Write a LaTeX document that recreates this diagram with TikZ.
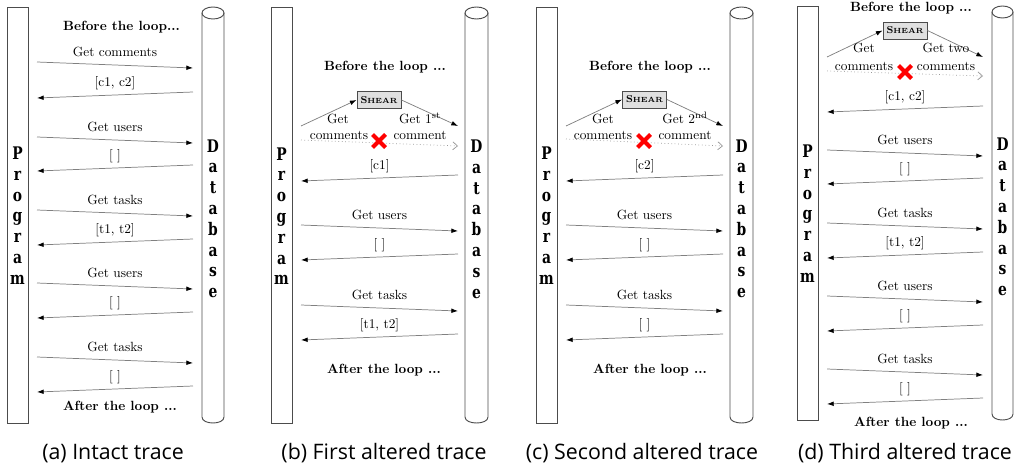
\documentclass[tikz,border=0pt]{standalone}
\usepackage{fontspec}
\newfontfamily\capfont{Open Sans}
\newfontfamily\lettfont{DejaVu Serif}
\usetikzlibrary{arrows.meta}

\tikzset{
  life/.style={draw=black!70, line width=0.7pt},
  msgline/.style={draw=black!50, line width=0.55pt, -{Latex[length=5pt,width=3.5pt,color=black]}},
  lost/.style={draw=black!40, dotted, line width=0.55pt, -{Straight Barb[length=3.5pt,width=6pt]}},
  lbl/.style={font=\fontsize{10}{12}\selectfont, inner sep=0pt, anchor=base},
  hdr/.style={font=\fontsize{10}{12}\selectfont\bfseries, inner sep=0pt, anchor=base},
  letter/.style={font=\lettfont\fontsize{13}{15}\selectfont\bfseries, inner sep=0pt, anchor=base},
  shearbox/.style={draw=black!70, fill=black!12, line width=0.7pt, minimum width=33pt,
                   minimum height=12.75pt, inner sep=0pt, font=\bfseries},
  cross/.style={draw=red, line width=3pt},
  caption/.style={font=\capfont\fontsize{16}{19}\selectfont, inner sep=0pt, anchor=base},
}

\newcommand\os[1]{\oldstylenums{#1}}
\newcommand\shearname{{\fontsize{7.5}{9}\selectfont S}{\fontsize{5.6}{7}\selectfont HEAR}}
\newcommand\none{[\ ]}

% Program box and Database cylinder with their vertical labels
% #1 prefix, #2/#3 box left/right, #4/#5 cylinder left/right, #6 top, #7 bottom, #8 letter shift
\newcommand\lifelines[8]{%
  \draw[life] (#2,#6) rectangle (#3,#7);
  \draw[life] (#4,#6+6) -- (#4,#7-6) .. controls (#4,#7+2) and (#5,#7+2) .. (#5,#7-6) -- (#5,#6+6);
  \draw[life] ({(#4+#5)/2},#6+6) ellipse [x radius={(#5-#4)/2}, y radius=6];
  \foreach \ch [count=\i from 0] in {P,r,o,g,r,a,m}
    \node[letter] (#1-p\i) at ({(#2+#3)/2},{159.5+#8+20.8*\i}) {\scalebox{0.8}[1]{\ch}};
  \foreach \ch [count=\i from 0] in {D,a,t,a,b,a,s,e}
    \node[letter] (#1-d\i) at ({(#4+#5)/2},{152+#8+20.8*\i}) {\scalebox{0.8}[1]{\ch}};
}

% one message: #1 name, #2 x of tail, #3 x of head, #4 y of tail, #5 label
\newcommand\msgto[5]{%
  \coordinate (#1s) at (#2,#4);
  \coordinate (#1e) at (#3,#4+6);
  \draw[msgline] (#1s) -- (#1e);
  \node[lbl] (#1l) at ({(#2+#3)/2},#4-6) {#5};
}

% red cross marking the lost request
\newcommand\crossat[3]{%
  \coordinate (#1) at (#2,#3);
  \draw[cross] (#2-6.5,#3-6.5) -- (#2+6.5,#3+6.5) (#2-6.5,#3+6.5) -- (#2+6.5,#3-6.5);
}

\begin{document}
\begin{tikzpicture}[x=0.75pt, y=-0.75pt]
\useasboundingbox (0,0) rectangle (1019,467);

% ---------- (a) intact trace ----------
\lifelines{a}{7}{28}{202}{224}{7}{423}{0}
\node[hdr] (a-before) at (121.5,31) {Before the loop...};
\msgto{a1}{37}{193}{62}{Get comments}
\msgto{a2}{193}{37}{92}{[c\os1, c\os2]}
\msgto{a3}{37}{193}{137}{Get users}
\msgto{a4}{193}{37}{165}{\none}
\msgto{a5}{37}{193}{210}{Get tasks}
\msgto{a6}{193}{37}{239}{[t\os1, t\os2]}
\msgto{a7}{37}{193}{283}{Get users}
\msgto{a8}{193}{37}{312}{\none}
\msgto{a9}{37}{193}{357}{Get tasks}
\msgto{a10}{193}{37}{386}{\none}
\node[hdr] (a-after) at (120,410) {After the loop ...};
\node[caption] (a-cap) at (113,459) {(a) Intact trace};

% ---------- (b) first altered trace ----------
\lifelines{b}{271}{292}{465}{488}{7}{423}{0.5}
\node[hdr] (b-before) at (385,70) {Before the loop ...};
\node[shearbox] (b-shear) at (379,100) {\shearname};
\coordinate (b-s0) at (301,126);
\coordinate (b-e0) at (458,126);
\draw[msgline] (b-s0) -- (b-shear.west);
\draw[msgline] (b-shear.east) -- (b-e0);
\node[lbl] (b-get) at (338,123) {Get};
\node[lbl] (b-com) at (339,139) {comments};
\node[lbl] (b-get1) at (420,123) {Get \os1\textsuperscript{st}};
\node[lbl] (b-com1) at (420,139) {comment};
\coordinate (b-ls) at (301,140);
\coordinate (b-le) at (458,146);
\draw[lost] (b-ls) -- (b-le);
\crossat{b-x}{379}{141}
\msgto{b1}{458}{301}{175}{[c\os1]}
\msgto{b2}{301}{458}{225}{Get users}
\msgto{b3}{458}{301}{254}{\none}
\msgto{b4}{301}{458}{305}{Get tasks}
\msgto{b5}{458}{301}{334}{[t\os1, t\os2]}
\node[hdr] (b-after) at (384,373) {After the loop ...};
\node[caption] (b-cap) at (384,459) {(b) First altered trace};

% ---------- (c) second altered trace ----------
\lifelines{c}{536}{557}{730}{753}{7}{423}{0}
\node[hdr] (c-before) at (650,70) {Before the loop ...};
\node[shearbox] (c-shear) at (644.5,99.5) {\shearname};
\coordinate (c-s0) at (566,126);
\coordinate (c-e0) at (723,126);
\draw[msgline] (c-s0) -- (c-shear.west);
\draw[msgline] (c-shear.east) -- (c-e0);
\node[lbl] (c-get) at (603,123) {Get};
\node[lbl] (c-com) at (603,139) {comments};
\node[lbl] (c-get2) at (685,123) {Get \os2\textsuperscript{nd}};
\node[lbl] (c-com2) at (685,139) {comment};
\coordinate (c-ls) at (566,139);
\coordinate (c-le) at (723,146);
\draw[lost] (c-ls) -- (c-le);
\crossat{c-x}{644}{141}
\msgto{c1}{723}{566}{175}{[c\os2]}
\msgto{c2}{566}{723}{225}{Get users}
\msgto{c3}{723}{566}{254}{\none}
\msgto{c4}{566}{723}{305}{Get tasks}
\msgto{c5}{723}{566}{334}{\none}
\node[hdr] (c-after) at (650,373) {After the loop ...};
\node[caption] (c-cap) at (642,459) {(c) Second altered trace};

% ---------- (d) third altered trace ----------
\lifelines{d}{797}{818}{992}{1013}{6}{420}{-2}
\node[hdr] (d-before) at (911,11.7) {Before the loop ...};
\node[shearbox] (d-shear) at (905,30.5) {\shearname};
\coordinate (d-s0) at (827,57);
\coordinate (d-e0) at (983,57);
\draw[msgline] (d-s0) -- (d-shear.west);
\draw[msgline] (d-shear.east) -- (d-e0);
\node[lbl] (d-get) at (864,53) {Get};
\node[lbl] (d-com) at (864,70) {comments};
\node[lbl] (d-get2) at (946,53) {Get two};
\node[lbl] (d-com2) at (946,70) {comments};
\coordinate (d-ls) at (827,71);
\coordinate (d-le) at (983,76);
\draw[lost] (d-ls) -- (d-le);
\crossat{d-x}{905}{72}
\msgto{d1}{983}{827}{106}{[c\os1, c\os2]}
\msgto{d2}{827}{983}{150}{Get users}
\msgto{d3}{983}{827}{178}{\none}
\msgto{d4}{827}{983}{223}{Get tasks}
\msgto{d5}{983}{827}{252}{[t\os1, t\os2]}
\msgto{d6}{827}{983}{296}{Get users}
\msgto{d7}{983}{827}{325}{\none}
\msgto{d8}{827}{983}{369}{Get tasks}
\msgto{d9}{983}{827}{398}{\none}
\node[hdr] (d-after) at (911,426) {After the loop ...};
\node[caption] (d-cap) at (905,459) {(d) Third altered trace};
\end{tikzpicture}
\end{document}
